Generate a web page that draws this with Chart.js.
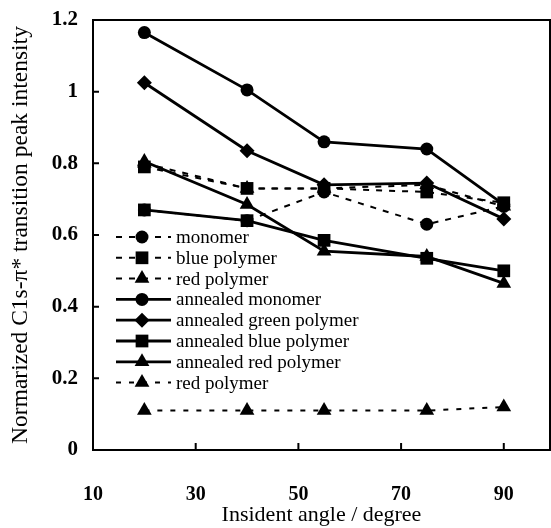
<!DOCTYPE html>
<html>
<head>
<meta charset="utf-8">
<script src="https://cdn.jsdelivr.net/npm/chart.js@4.4.1/dist/chart.umd.min.js"></script>
<style>
  html, body { margin: 0; padding: 0; background: #fff; }
</style>
</head>
<body>
<canvas id="myChart" width="551" height="528"></canvas>
<script>
// incident angles (deg)
const angles = [20, 40, 55, 75, 90];

const seriesNames = ['monomer', 'blue polymer', 'red polymer', 'annealed monomer',
    'annealed green polymer', 'annealed blue polymer', 'annealed red polymer', 'red polymer'];

const monomer = [0.67, 0.64, 0.72, 0.63, 0.68];
const bluePolymer = [0.79, 0.73, 0.73, 0.72, 0.69];
const redPolymer = [0.80, 0.73, 0.73, 0.74, 0.68];
const annealedMonomer = [1.165, 1.005, 0.86, 0.84, 0.685];
const annealedGreen = [1.025, 0.835, 0.74, 0.745, 0.645];
const annealedBlue = [0.67, 0.64, 0.585, 0.535, 0.50];
const annealedRed = [0.805, 0.685, 0.555, 0.54, 0.465];
const redPolymerLow = [0.11, 0.11, 0.11, 0.11, 0.12];

const xTicks = [10, 30, 50, 70, 90];
const yTicks = [0, 0.2, 0.4, 0.6, 0.8, 1, 1.2];

const SERIF = '"Liberation Serif", "Times New Roman", serif';

// dashed or solid, marker
const styles = [
    { dash: [6, 7], marker: 'circle' },
    { dash: [6, 7], marker: 'rect' },
    { dash: [6, 7], marker: 'triangle' },
    { dash: [], marker: 'circle' },
    { dash: [], marker: 'rectRot' },
    { dash: [], marker: 'rect' },
    { dash: [], marker: 'triangle' },
    { dash: [5, 8], marker: 'triangle' }
];
const allValues = [monomer, bluePolymer, redPolymer, annealedMonomer,
    annealedGreen, annealedBlue, annealedRed, redPolymerLow];

function markerRadius(marker) {
    if (marker === 'rect') return 9;
    if (marker === 'triangle') return 8.5;
    if (marker === 'rectRot') return 7.5;
    return 6.5;
}

function drawMarker(ctx, marker, x, y) {
    const r = markerRadius(marker);
    ctx.beginPath();
    if (marker === 'circle') {
        ctx.arc(x, y, r, 0, Math.PI * 2);
    } else if (marker === 'rect') {
        const s = r / Math.SQRT2;
        ctx.rect(x - s, y - s, 2 * s, 2 * s);
    } else if (marker === 'rectRot') {
        ctx.moveTo(x, y - r); ctx.lineTo(x + r, y); ctx.lineTo(x, y + r); ctx.lineTo(x - r, y);
        ctx.closePath();
    } else {
        const h = r * 1.5, w = r * Math.sqrt(3) / 2;
        ctx.moveTo(x, y - r); ctx.lineTo(x + w, y + h - r); ctx.lineTo(x - w, y + h - r);
        ctx.closePath();
    }
    ctx.fill();
}

const frameAndLegend = {
    id: 'frameAndLegend',
    beforeDatasetsDraw(chart) {
        const ctx = chart.ctx;
        const area = chart.chartArea;
        const x0 = area.left + 23, x1 = area.left + 78, xm = area.left + 49;
        ctx.save();
        ctx.font = '19px ' + SERIF;
        ctx.textBaseline = 'middle';
        ctx.fillStyle = '#000';
        chart.data.datasets.forEach((ds, i) => {
            const y = area.top + 217 + i * 20.8;
            ctx.strokeStyle = '#000';
            ctx.lineWidth = ds.borderWidth;
            ctx.setLineDash(ds.borderDash);
            ctx.beginPath();
            ctx.moveTo(x0, y);
            ctx.lineTo(x1, y);
            ctx.stroke();
            ctx.setLineDash([]);
            drawMarker(ctx, styles[i].marker, xm, y);
            ctx.fillText(ds.label, area.left + 83, y + 1);
        });
        ctx.restore();
    },
    afterDraw(chart) {
        const ctx = chart.ctx;
        const a = chart.chartArea;
        const xs = chart.scales.x, ys = chart.scales.y;
        ctx.save();
        ctx.strokeStyle = '#000';
        ctx.lineWidth = 2;
        ctx.strokeRect(a.left, a.top, a.right - a.left, a.bottom - a.top);
        ctx.beginPath();
        yTicks.forEach(v => {
            const y = ys.getPixelForValue(v);
            ctx.moveTo(a.left, y);
            ctx.lineTo(a.left + 6, y);
        });
        xTicks.slice(1).forEach(v => {
            const x = xs.getPixelForValue(v);
            ctx.moveTo(x, a.bottom);
            ctx.lineTo(x, a.bottom - 7);
        });
        ctx.stroke();
        ctx.restore();
    }
};

const datasets = allValues.map((vals, i) => ({
    label: seriesNames[i],
    data: angles.map((a, j) => ({ x: a, y: vals[j] })),
    borderColor: '#000',
    backgroundColor: '#000',
    borderWidth: styles[i].dash.length ? 2 : 2.8,
    borderDash: styles[i].dash,
    pointStyle: styles[i].marker,
    pointRadius: markerRadius(styles[i].marker),
    pointBorderWidth: 0,
    pointBackgroundColor: '#000',
    pointHoverRadius: markerRadius(styles[i].marker),
    tension: 0,
    fill: false
}));

new Chart(document.getElementById('myChart').getContext('2d'), {
    type: 'line',
    data: { datasets: datasets },
    options: {
        responsive: false,
        animation: false,
        events: [],
        layout: { autoPadding: false, padding: { top: 20, right: 1, left: 0, bottom: 0 } },
        plugins: { legend: { display: false }, tooltip: { enabled: false } },
        scales: {
            x: {
                type: 'linear',
                min: 10,
                max: 99,
                grid: { display: false, drawTicks: false },
                border: { display: false },
                afterFit: s => { s.height = 78; s.paddingLeft = 0; s.paddingRight = 0; },
                afterBuildTicks: s => { s.ticks = xTicks.map(v => ({ value: v })); },
                ticks: {
                    autoSkip: false,
                    maxRotation: 0,
                    padding: 33,
                    color: '#000',
                    font: { family: SERIF, size: 20, weight: 'bold' }
                },
                title: {
                    display: true,
                    text: 'Insident angle / degree',
                    color: '#000',
                    padding: { top: 0, bottom: 0 },
                    font: { family: SERIF, size: 22 }
                }
            },
            y: {
                min: 0,
                max: 1.2,
                grid: { display: false, drawTicks: false },
                border: { display: false },
                // tick padding would otherwise push the plot top down
                afterFit: s => { s.width = 93; s.paddingTop = 0; s.paddingBottom = 0; },
                afterBuildTicks: s => { s.ticks = yTicks.map(v => ({ value: v })); },
                ticks: {
                    padding: 15,
                    color: '#000',
                    font: { family: SERIF, size: 21, weight: 'bold' },
                    callback: v => String(Math.round(v * 10) / 10)
                },
                title: {
                    display: true,
                    text: 'Normarized C1s-\u03c0* transition peak intensity',
                    color: '#000',
                    padding: { top: 7, bottom: 0 },
                    font: { family: SERIF, size: 23.5 }
                }
            }
        }
    },
    plugins: [frameAndLegend]
});
</script>
</body>
</html>
